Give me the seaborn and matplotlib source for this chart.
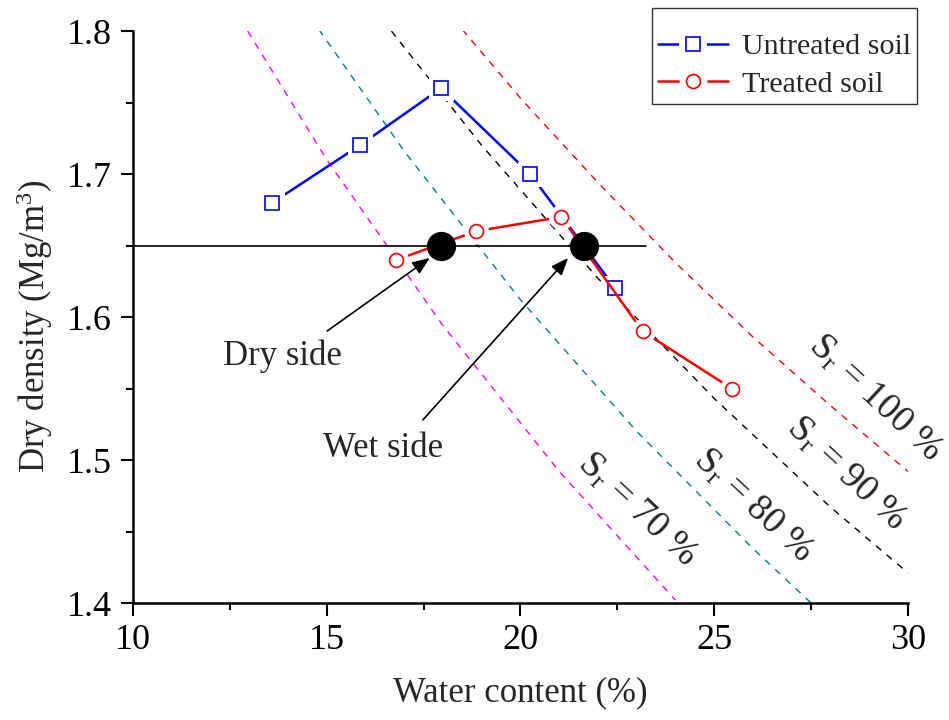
import numpy as np
import pandas as pd
import seaborn as sns
import matplotlib
matplotlib.use("Agg")
import matplotlib.pyplot as plt
from matplotlib.lines import Line2D
from matplotlib.legend_handler import HandlerTuple

# Compaction test results
untreated_w = [13.6, 15.85, 17.95, 20.25, 22.45]
untreated_rho = [1.68, 1.72, 1.76, 1.70, 1.62]
treated_w = [16.8, 18.85, 21.05, 23.15, 25.45]
treated_rho = [1.64, 1.66, 1.67, 1.59, 1.55]

# Compaction states on the dry and wet side at equal density
state_w = [17.95, 21.65]
state_rho = [1.65, 1.65]
ref_line_w = [10.0, 23.25]
ref_line_rho = [1.65, 1.65]

# Saturation curves (water content %, dry density)
sat100_w = [18.5, 20.0, 22.0, 24.0, 26.0, 28.0, 30.0]
sat100_rho = [1.801, 1.753, 1.694, 1.638, 1.586, 1.538, 1.492]
sat90_w = [16.67, 19.0, 22.0, 25.0, 28.0, 30.0]
sat90_rho = [1.800, 1.720, 1.627, 1.543, 1.467, 1.421]
sat80_w = [14.8, 17.0, 20.0, 23.0, 26.0, 27.5]
sat80_rho = [1.801, 1.716, 1.612, 1.520, 1.438, 1.400]
sat70_w = [12.96, 15.0, 18.0, 21.0, 24.0]
sat70_rho = [1.800, 1.710, 1.594, 1.492, 1.402]

sat_labels = ["S$_\\mathregular{r}$ = 100 %", "S$_\\mathregular{r}$ = 90 %",
              "S$_\\mathregular{r}$ = 80 %", "S$_\\mathregular{r}$ = 70 %"]
sat_label_w = [29.15, 28.4, 26.0, 23.0]
sat_label_rho = [1.543, 1.490, 1.468, 1.465]

# annotation labels and arrows (tail -> tip)
side_labels = ["Dry side", "Wet side"]
side_label_w = [13.86, 16.45]
side_label_rho = [1.5664, 1.502]
arrow_tail_w = [15.01, 17.48]
arrow_tail_rho = [1.5902, 1.528]
arrow_tip_w = [17.66, 21.23]
arrow_tip_rho = [1.6413, 1.6413]

x_ticks = [10, 15, 20, 25, 30]
y_ticks = [1.4, 1.5, 1.6, 1.7, 1.8]

sns.set_style("ticks")
plt.rcParams["font.family"] = ["Liberation Serif", "DejaVu Serif"]
plt.rcParams["mathtext.fontset"] = "custom"
plt.rcParams["mathtext.rm"] = "Liberation Serif"
plt.rcParams["mathtext.it"] = "Liberation Serif:italic"

fig = plt.figure(figsize=(9.49, 7.2), dpi=100)
ax = fig.add_axes([0.1401, 0.1625, 0.8167, 0.7944])

# saturation curves
sat_sets = [(sat100_w, sat100_rho, "#FF0000"), (sat90_w, sat90_rho, "#000000"),
            (sat80_w, sat80_rho, "#008080"), (sat70_w, sat70_rho, "#FF00FF")]
for w, r, c in sat_sets:
    sns.lineplot(x=w, y=r, ax=ax, color=c, lw=1.0, sort=False,
                 linestyle=(0, (5, 5)), zorder=1)

# reference density line
sns.lineplot(x=ref_line_w, y=ref_line_rho, ax=ax, color="black", lw=1.2, zorder=1.5)

def series(w, r, color, marker, z):
    sns.lineplot(x=w, y=r, ax=ax, color=color, lw=1.8, sort=False, zorder=z)
    ax.plot(w, r, ls="none", marker=marker, ms=18, mfc="white", mec="white",
            mew=0, zorder=z + 0.1)
    ax.plot(w, r, ls="none", marker=marker, ms=10, mfc="white", mec=color,
            mew=1.2, zorder=z + 0.2)

series(untreated_w, untreated_rho, "#0000FF", "s", 2)
series(treated_w, treated_rho, "#FF0000", "o", 3)

sns.scatterplot(x=state_w, y=state_rho, ax=ax, color="black", s=380,
                edgecolor="black", zorder=5)

for lab, xw, yr in zip(sat_labels, sat_label_w, sat_label_rho):
    ax.text(xw, yr, lab, rotation=-43, rotation_mode="anchor",
            ha="center", va="center", fontsize=27)

for lab, xw, yr in zip(side_labels, side_label_w, side_label_rho):
    ax.text(xw, yr, lab, fontsize=25, ha="center", va="baseline")
for tw, tr, hw, hr in zip(arrow_tail_w, arrow_tail_rho, arrow_tip_w, arrow_tip_rho):
    ax.annotate("", xy=(hw, hr), xytext=(tw, tr),
                arrowprops=dict(arrowstyle="-|>,head_length=0.7,head_width=0.28",
                                color="black", lw=1.2, shrinkA=0, shrinkB=0,
                                mutation_scale=15), zorder=6)

ax.set_xlim(10, 30)
ax.set_ylim(1.4, 1.8)
ax.set_xticks(x_ticks)
ax.set_yticks(y_ticks)
ax.set_xticklabels([str(t) for t in x_ticks])
ax.set_yticklabels([f"{t:.1f}" for t in y_ticks])
ax.xaxis.set_minor_locator(matplotlib.ticker.MultipleLocator(2.5))
ax.yaxis.set_minor_locator(matplotlib.ticker.MultipleLocator(0.05))
ax.tick_params(which="major", direction="out", length=9, width=1.5,
               labelsize=26, color="black", labelcolor="black", pad=6)
ax.tick_params(which="minor", direction="out", length=5, width=1.5, color="black")
for side in ["top", "right"]:
    ax.spines[side].set_visible(False)
for side in ["left", "bottom"]:
    ax.spines[side].set_linewidth(1.8)
    ax.spines[side].set_color("black")

ax.set_xlabel("Water content (%)", fontsize=25, labelpad=14)
ax.set_ylabel("Dry density (Mg/m$^\\mathregular{3}$)", fontsize=25)
ax.yaxis.set_label_coords(-0.100, 0.484)

def handle(color, marker):
    ln = Line2D([], [], color=color, lw=1.8)
    halo = Line2D([], [], ls="none", marker=marker, ms=20, mfc="white",
                  mec="white", mew=0)
    mk = Line2D([], [], ls="none", marker=marker, ms=10, mfc="white",
                mec=color, mew=1.2)
    return (ln, halo, mk)

leg = ax.legend([handle("#0000FF", "s"), handle("#FF0000", "o")],
                ["Untreated soil", "Treated soil"],
                handler_map={tuple: HandlerTuple(ndivide=1)},
                loc="upper right", bbox_to_anchor=(1.0115, 1.0405),
                fontsize=21.6, frameon=True, fancybox=False, framealpha=1,
                edgecolor="#333333", handlelength=2.35, handletextpad=0.45,
                borderpad=0.2, labelspacing=0.35, borderaxespad=0,
                title=" ", title_fontsize=7.5)
leg.get_frame().set_linewidth(1.0)

fig.savefig("out.png", dpi=100)
